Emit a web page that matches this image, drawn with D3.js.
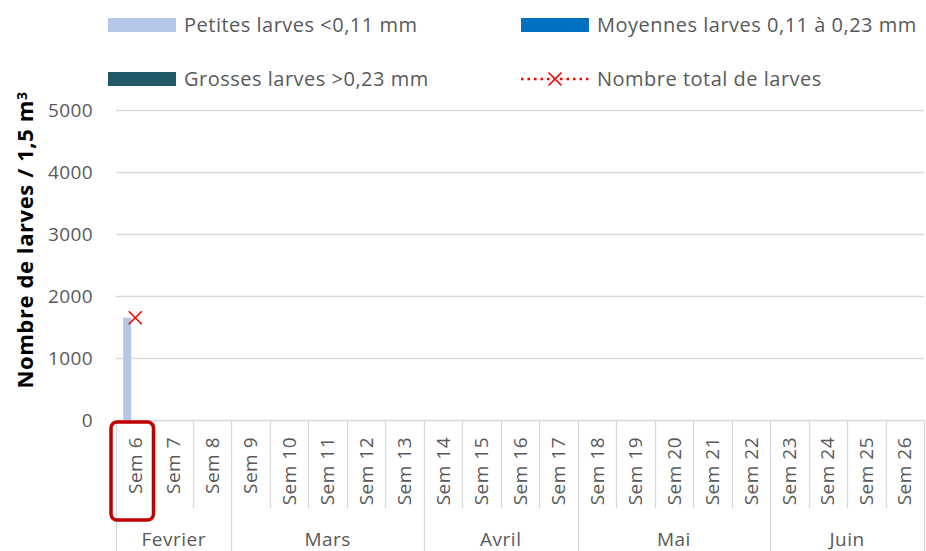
<!DOCTYPE html>
<html>
<head>
<meta charset="utf-8">
<script src="https://cdn.jsdelivr.net/npm/d3@7"></script>
<style>
  body { margin: 0; background: #fff; }
  text { font-family: "Open Sans", sans-serif; }
</style>
</head>
<body>
<script>
// chart values
var weeks = ["Sem 6","Sem 7","Sem 8","Sem 9","Sem 10","Sem 11","Sem 12","Sem 13","Sem 14","Sem 15","Sem 16",
             "Sem 17","Sem 18","Sem 19","Sem 20","Sem 21","Sem 22","Sem 23","Sem 24","Sem 25","Sem 26"];
var months = ["Fevrier","Mars","Avril","Mai","Juin"];
var monthWeekCount = [3, 5, 4, 5, 4];
var petites = [1650, null, null, null, null, null, null, null, null, null, null, null, null, null, null, null, null, null, null, null, null];
var moyennes = [0, null, null, null, null, null, null, null, null, null, null, null, null, null, null, null, null, null, null, null, null];
var grosses = [0, null, null, null, null, null, null, null, null, null, null, null, null, null, null, null, null, null, null, null, null];
var total = [1650, null, null, null, null, null, null, null, null, null, null, null, null, null, null, null, null, null, null, null, null];
var yTicks = [0, 1000, 2000, 3000, 4000, 5000];
var seriesNames = ["Petites larves <0,11 mm", "Moyennes larves 0,11 à 0,23 mm", "Grosses larves >0,23 mm"];
var totalName = "Nombre total de larves";

var width = 926, height = 551;
var margin = {top: 110, right: 2, bottom: 131, left: 116};
var colors = ["#b4c7e7", "#0070c0", "#215968"];
var gridColor = "#d9d9d9";
var textColor = "#595959";

const svg = d3.select("body").append("svg")
  .attr("width", width)
  .attr("height", height);

var x = d3.scaleBand()
  .domain(weeks)
  .range([margin.left, width - margin.right])
  .padding(0);

var sub = d3.scaleBand()
  .domain([0, 1, 2])
  .range([0, x.bandwidth()])
  .paddingInner(0)
  .paddingOuter(0.9);

var y = d3.scaleLinear()
  .domain([0, 5000])
  .range([height - margin.bottom, margin.top]);

// gridlines
svg.append("g")
  .selectAll("line")
  .data(yTicks)
  .enter().append("line")
  .attr("x1", margin.left)
  .attr("x2", width - margin.right)
  .attr("y1", d => Math.round(y(d)) + 0.5)
  .attr("y2", d => Math.round(y(d)) + 0.5)
  .attr("stroke", gridColor)
  .attr("stroke-width", 1.3);

// y tick labels
svg.append("g")
  .selectAll("text")
  .data(yTicks)
  .enter().append("text")
  .attr("x", 93)
  .attr("y", d => y(d))
  .attr("dy", "0.35em")
  .attr("text-anchor", "end")
  .attr("fill", textColor)
  .style("font-size", "19px")
  .style("letter-spacing", "0.4px")
  .text(d => d);

// y axis title
svg.append("text")
  .attr("transform", "translate(33,240) rotate(-90)")
  .attr("text-anchor", "middle")
  .attr("fill", "#000")
  .style("font-size", "22px")
  .style("font-weight", "bold")
  .style("letter-spacing", "0.6px")
  .text("Nombre de larves / 1,5 m")
  .append("tspan")
  .attr("dy", "-0.45em")
  .style("font-size", "14px")
  .text("3");

// bars
var seriesData = [petites, moyennes, grosses];
seriesData.forEach(function(vals, si) {
  svg.append("g")
    .selectAll("rect")
    .data(vals.map((v, i) => ({week: weeks[i], value: v})).filter(d => d.value))
    .enter().append("rect")
    .attr("x", d => x(d.week) + sub(si))
    .attr("width", sub.bandwidth())
    .attr("y", d => y(d.value))
    .attr("height", d => y(0) - y(d.value))
    .attr("fill", colors[si]);
});

// total line + markers
var totalPts = total.map((v, i) => ({week: weeks[i], value: v}));
svg.append("path")
  .datum(totalPts)
  .attr("fill", "none")
  .attr("stroke", "#ff0000")
  .attr("stroke-width", 2.5)
  .attr("stroke-dasharray", "2.5,4")
  .attr("d", d3.line()
    .defined(d => d.value != null)
    .x(d => x(d.week) + x.bandwidth() / 2)
    .y(d => y(d.value)));

function cross(g, cx, cy, r) {
  g.append("path")
    .attr("d", "M" + (cx - r) + "," + (cy - r) + "L" + (cx + r) + "," + (cy + r) +
               "M" + (cx - r) + "," + (cy + r) + "L" + (cx + r) + "," + (cy - r))
    .attr("stroke", "#ff0000")
    .attr("stroke-width", 1.6)
    .attr("fill", "none");
}
var markG = svg.append("g");
totalPts.filter(d => d.value != null).forEach(function(d) {
  cross(markG, x(d.week) + x.bandwidth() / 2, y(d.value), 6.5);
});

// category axis: week separators
var axisY = y(0);
var bounds = weeks.map(w => x(w)).concat([width - margin.right]);
var monthBounds = [0];
monthWeekCount.forEach(function(c, i) { monthBounds.push(monthBounds[i] + c); });

svg.append("g")
  .selectAll("line")
  .data(bounds)
  .enter().append("line")
  .attr("x1", d => Math.round(d) + 0.5)
  .attr("x2", d => Math.round(d) + 0.5)
  .attr("y1", axisY)
  .attr("y2", (d, i) => monthBounds.indexOf(i) >= 0 ? height : 508)
  .attr("stroke", gridColor)
  .attr("stroke-width", 1.3);

// week labels
svg.append("g")
  .selectAll("text")
  .data(weeks)
  .enter().append("text")
  .attr("transform", d => "translate(" + (x(d) + x.bandwidth() / 2) + ",437) rotate(-90)")
  .attr("dy", "0.35em")
  .attr("text-anchor", "end")
  .attr("fill", textColor)
  .style("font-size", "19px")
  .style("letter-spacing", "0.5px")
  .text(d => d);

// month labels
svg.append("g")
  .selectAll("text")
  .data(months)
  .enter().append("text")
  .attr("x", (d, i) => (bounds[monthBounds[i]] + bounds[monthBounds[i + 1]]) / 2)
  .attr("y", 546)
  .attr("text-anchor", "middle")
  .attr("fill", textColor)
  .style("font-size", "19px")
  .style("letter-spacing", "0.5px")
  .text(d => d);

// highlight box around first week label
svg.append("rect")
  .attr("x", x(weeks[0]) - 5)
  .attr("y", 422)
  .attr("width", x.bandwidth() + 4)
  .attr("height", 98)
  .attr("rx", 6)
  .attr("fill", "none")
  .attr("stroke", "#c00000")
  .attr("stroke-width", 3.5);

// legend
var legendItems = [
  {name: seriesNames[0], type: "bar", color: colors[0], x: 108, y: 25},
  {name: seriesNames[1], type: "bar", color: colors[1], x: 521, y: 25},
  {name: seriesNames[2], type: "bar", color: colors[2], x: 108, y: 79},
  {name: totalName, type: "line", color: "#ff0000", x: 521, y: 79}
];
var legend = svg.append("g");
legendItems.forEach(function(d) {
  if (d.type == "bar") {
    legend.append("rect")
      .attr("x", d.x).attr("y", d.y - 7)
      .attr("width", 68).attr("height", 14)
      .attr("fill", d.color);
  } else {
    legend.append("line")
      .attr("x1", d.x).attr("x2", d.x + 68)
      .attr("y1", d.y).attr("y2", d.y)
      .attr("stroke", d.color)
      .attr("stroke-width", 2.5)
      .attr("stroke-dasharray", "2.5,4");
    cross(legend, d.x + 34, d.y, 6.5);
  }
  legend.append("text")
    .attr("x", d.x + 76)
    .attr("y", d.y)
    .attr("dy", "0.35em")
    .attr("fill", textColor)
    .style("font-size", "20px")
    .style("letter-spacing", "0.5px")
    .text(d.name);
});
</script>
</body>
</html>
